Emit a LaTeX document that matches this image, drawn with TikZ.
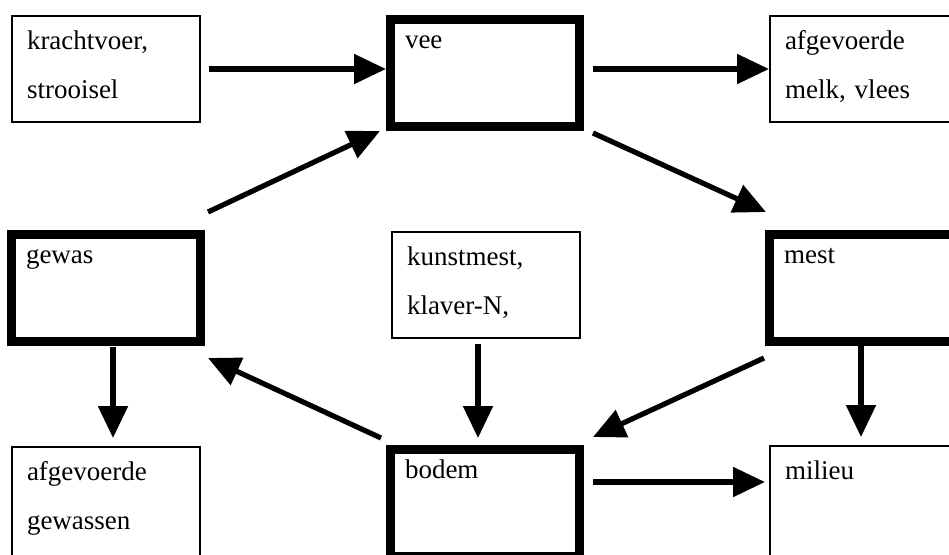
\documentclass[tikz,border=0pt]{standalone}
\usepackage{fontspec}
\setmainfont{Liberation Serif}
\usetikzlibrary{arrows.meta,calc}
\tikzset{
  pool/.style={draw,line width=4.5pt,anchor=north west,align=left,inner ysep=0pt,inner xsep=7.25pt,text width=80pt,text height=14.25pt,text depth=39.25pt},
  flux/.style={draw,line width=1pt,anchor=north west,align=left,inner ysep=0pt,inner xsep=7.5pt,text width=79pt,text height=16.5pt,text depth=36.5pt},
  flow/.style={line width=2.6pt,-{Triangle[length=16pt,width=14.5pt]}}
}
\begin{document}
\begin{tikzpicture}[x=0.5pt,y=-0.5pt,font=\fontsize{13.5}{24.5}\selectfont]
\path[use as bounding box,clip] (0,0) rectangle (949,554);
\node[flux] (kracht) at (11,15) {krachtvoer,\\ strooisel};
\node[pool] (vee) at (386,15) {vee};
\node[flux] (melk) at (769,15) {afgevoerde\\ melk, vlees};
\node[pool] (gewas) at (7,230) {gewas};
\node[flux] (kunst) at (391,231) {kunstmest,\\ klaver-N,};
\node[pool] (mest) at (765,230) {mest};
\node[flux,text depth=40pt] (gewassen) at (11,446) {afgevoerde\\ gewassen};
\node[pool] (bodem) at (386,445) {bodem};
\node[flux,text depth=40pt] (milieu) at (769,445) {milieu};
\draw[flow,shorten <=4pt] (kracht.east) -- (kracht.east -| vee.west);
\draw[flow,shorten <=4.5pt] (vee.east |- melk.west) -- (melk.west);
\draw[flow] ($(bodem.north east)+(9,37)$) -- ($(milieu.north west)+(-4,37)$);
\draw[flow] ($(gewas.north east)+(3,-18)$) -- ($(vee.south west)+(-6,0)$);
\draw[flow] ($(vee.south east)+(9,2)$) -- ($(mest.north west)+(1,-18)$);
\draw[flow] ($(bodem.north west)+(-5,-7)$) -- ($(gewas.south east)+(3,12)$);
\draw[flow] ($(mest.south west)+(-1,12)$) -- ($(bodem.north east)+(9,-8)$);
\draw[flow] ($(gewas.south west)+(106,1)$) -- ($(gewassen.north west)+(102,-8)$);
\draw[flow] ($(kunst.south west)+(87,5)$) -- ($(bodem.north west)+(92,-7)$);
\draw[flow] ($(mest.south west)+(96,0)$) -- ($(milieu.north west)+(92,-8)$);
\end{tikzpicture}
\end{document}
